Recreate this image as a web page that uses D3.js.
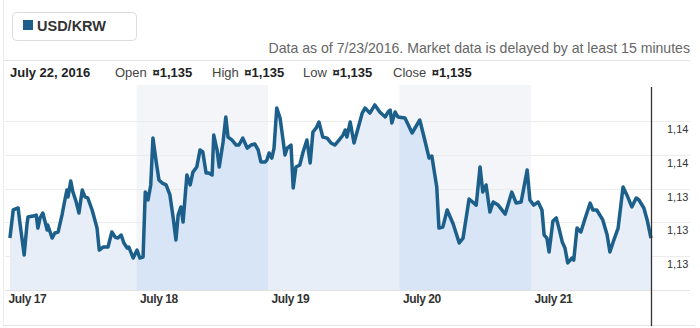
<!DOCTYPE html>
<html><head><meta charset="utf-8">
<script src="https://cdn.jsdelivr.net/npm/d3@7"></script>
<style>
body{margin:0;background:#fff;font-family:Arial,"Liberation Sans",sans-serif;}
svg{display:block}
</style></head>
<body><svg id="c" width="700" height="328"></svg>
<script>
// hours since July 17, 2016 00:00
const hours = [0.9,1.5,2.4,2.7,3.5,4.0,4.2,5.1,5.7,6.0,6.4,6.9,7.7,7.8,8.6,9.1,9.7,10.4,11.0,11.3,11.5,12.0,12.4,13.0,13.5,14.1,14.6,15.1,15.9,16.4,16.8,17.2,17.9,18.8,19.5,20.1,20.6,21.2,21.7,22.3,22.6,23.4,24.1,24.6,25.2,25.6,25.9,26.1,26.6,27.0,27.6,28.1,28.7,29.4,30.1,30.7,31.2,31.6,32.1,32.5,33.2,33.8,34.3,35.0,35.6,36.1,36.7,37.2,37.8,38.1,38.7,39.1,39.8,40.3,40.7,41.4,42.2,42.7,43.4,44.2,44.9,45.6,46.2,46.7,47.5,47.8,48.2,48.7,49.1,49.6,50.2,50.7,51.1,51.5,52.2,52.6,53.1,53.8,54.4,55.1,55.7,56.2,56.8,57.3,58.0,58.8,59.5,60.2,61.0,61.7,62.1,62.4,63.0,63.7,64.2,65.2,65.7,66.6,67.5,68.4,69.4,69.9,70.3,70.6,71.2,71.7,73.0,74.3,75.7,76.7,77.4,77.9,78.8,79.2,79.9,80.7,81.8,82.9,83.6,84.7,86.0,86.7,87.2,87.8,88.5,89.1,90.0,91.3,92.5,93.3,94.2,95.3,95.8,96.5,97.3,98.0,98.4,98.9,99.3,100.0,100.6,101.1,101.7,102.2,102.7,103.5,103.8,104.4,105.1,105.9,106.8,107.3,108.0,109.1,109.9,110.4,111.0,111.9,112.8,113.5,114.4,115.2,115.7,116.6,117.2,117.9];
const rates = [1135.07,1136.73,1136.85,1136.02,1134.07,1135.84,1136.31,1136.37,1136.43,1135.66,1136.26,1136.55,1135.55,1135.84,1135.07,1135.37,1135.43,1136.43,1137.44,1137.91,1137.50,1138.44,1137.79,1137.20,1136.55,1137.91,1137.50,1137.44,1136.73,1136.14,1135.66,1134.36,1134.54,1134.54,1135.43,1135.13,1135.07,1135.25,1134.78,1134.48,1134.54,1133.89,1134.36,1133.89,1133.95,1137.79,1137.62,1137.32,1138.21,1140.98,1139.57,1138.50,1138.32,1138.21,1137.62,1136.26,1134.96,1136.43,1136.91,1136.02,1138.80,1138.21,1138.97,1139.27,1140.28,1140.16,1138.92,1138.92,1138.80,1141.16,1140.28,1139.27,1140.75,1142.23,1141.04,1140.87,1140.57,1140.57,1140.98,1140.39,1140.57,1140.63,1140.28,1139.57,1139.57,1139.68,1140.10,1139.80,1140.39,1142.76,1142.17,1140.98,1139.98,1140.39,1140.57,1138.03,1139.27,1139.39,1140.16,1140.87,1139.51,1141.34,1141.58,1141.93,1141.04,1140.98,1140.69,1140.57,1140.87,1141.16,1141.46,1141.04,1141.93,1140.69,1141.28,1142.46,1142.76,1142.46,1142.94,1142.52,1142.23,1142.52,1142.64,1141.87,1142.52,1142.23,1142.17,1141.28,1142.05,1140.75,1139.80,1139.92,1138.09,1135.66,1135.72,1136.73,1135.90,1134.78,1135.07,1137.38,1137.02,1139.27,1137.79,1138.21,1136.61,1137.20,1137.02,1136.49,1137.79,1137.14,1137.20,1139.09,1137.32,1137.02,1137.20,1136.73,1135.25,1135.07,1134.25,1136.08,1136.26,1135.66,1134.84,1134.48,1133.60,1133.89,1133.77,1135.66,1135.43,1136.26,1137.14,1136.73,1136.73,1136.14,1135.25,1134.25,1134.84,1135.66,1138.09,1137.62,1136.91,1137.44,1137.32,1136.85,1136.14,1135.07];
const dayLabels = ["July 17","July 18","July 19","July 20","July 21"];
const yTickValues = [1142,1140,1138,1136,1134];
const yTickLabels = ["1,14","1,14","1,13","1,13","1,13"];
const shadedDays = [1,3]; // July 18, July 20
const seriesName = "USD/KRW";
const headerDate = "July 22, 2016";
const ohlcLabels = ["Open","High","Low","Close"];
const ohlcValues = ["¤1,135","¤1,135","¤1,135","¤1,135"];
const noteText = "Data as of 7/23/2016. Market data is delayed by at least 15 minutes";

const svg = d3.select("#c");
const t0 = new Date(2016,6,17);
const dayDate = i => d3.timeDay.offset(t0, i);
const data = hours.map((h,i)=>({t:new Date(t0.getTime()+h*3600000), v:rates[i]}));

const x = d3.scaleTime().domain([t0, dayDate(5)]).range([5, 662.5]);
const y = d3.scaleLinear().domain([1132,1144]).range([290, 87]);
const plotTop = 85, plotBottom = 290;
const lineColor = "#1b5f8a";

// outer frame
svg.append("line").attr("x1",3.5).attr("x2",3.5).attr("y1",0).attr("y2",325).attr("stroke","#ececec");
svg.append("line").attr("x1",3).attr("x2",695).attr("y1",325.5).attr("y2",325.5).attr("stroke","#e6e6e6");

// legend box
svg.append("rect").attr("x",12.5).attr("y",12.5).attr("width",124).attr("height",28).attr("rx",4)
  .attr("fill","#fff").attr("stroke","#dcdcdc");
svg.append("rect").attr("x",23).attr("y",20).attr("width",10).attr("height",10).attr("fill",lineColor);
svg.append("text").attr("x",37).attr("y",31).attr("font-size",14.5).attr("font-weight","bold").attr("fill","#333").text(seriesName);

// note
svg.append("text").attr("x",690).attr("y",53).attr("text-anchor","end").attr("font-size",14.1).attr("fill","#666").text(noteText);
svg.append("line").attr("x1",3).attr("x2",690).attr("y1",60.5).attr("y2",60.5).attr("stroke","#e4e4e4");

// header row
svg.append("text").attr("x",10).attr("y",77).attr("font-size",13).attr("font-weight","bold").attr("fill","#222").text(headerDate);
const ohlcX = [115,212,303,393];
ohlcLabels.forEach((l,i)=>{
  const tx = svg.append("text").attr("x",ohlcX[i]).attr("y",77).attr("font-size",13).attr("fill","#444");
  tx.append("tspan").text(l+" ");
  tx.append("tspan").attr("font-weight","bold").attr("fill","#222").attr("dx",2).text(ohlcValues[i]);
});

// shaded day bands (background)
shadedDays.forEach(d=>{
  svg.append("rect").attr("x",x(dayDate(d))).attr("y",plotTop).attr("width",x(dayDate(d+1))-x(dayDate(d))).attr("height",plotBottom-plotTop).attr("fill","#f3f5f9");
});

// gridlines + y labels
const yAxis = d3.axisRight(y).tickValues(yTickValues).tickSize(0).tickFormat((d,i)=>yTickLabels[i]);
const gy = svg.append("g").attr("transform","translate(667,0)").call(yAxis);
gy.select(".domain").remove();
gy.selectAll("text").attr("x",0).attr("dy","1.05em").attr("font-size",11).attr("font-family","Arial, Liberation Sans, sans-serif").attr("fill","#333");
svg.append("g").selectAll("line").data(yTickValues.concat([1132])).join("line")
  .attr("x1",5).attr("x2",690).attr("y1",d=>Math.round(y(d))+0.5).attr("y2",d=>Math.round(y(d))+0.5)
  .attr("stroke",d=>d===1132?"#e2e2e2":"#ececec");

// area
const area = d3.area().x(d=>x(d.t)).y0(plotBottom).y1(d=>y(d.v));
svg.append("path").datum(data).attr("d",area).attr("fill","#e8eef7");
const defs = svg.append("defs");
const cp = defs.append("clipPath").attr("id","shade");
shadedDays.forEach(d=>{
  cp.append("rect").attr("x",x(dayDate(d))).attr("y",plotTop).attr("width",x(dayDate(d+1))-x(dayDate(d))).attr("height",plotBottom-plotTop);
});
svg.append("path").datum(data).attr("d",area).attr("fill","#d7e5f6").attr("clip-path","url(#shade)");

// line
svg.append("path").datum(data).attr("d",d3.line().x(d=>x(d.t)).y(d=>y(d.v)))
  .attr("fill","none").attr("stroke",lineColor).attr("stroke-width",3.5).attr("stroke-linejoin","round");

// x axis
const xAxis = d3.axisBottom(x).tickValues(dayLabels.map((d,i)=>dayDate(i))).tickSize(0).tickFormat((d,i)=>dayLabels[i]);
const gx = svg.append("g").attr("transform",`translate(0,${plotBottom})`).call(xAxis);
gx.select(".domain").remove();
gx.selectAll("text").attr("text-anchor","start").attr("x",3).attr("y",13).attr("dy","0")
  .attr("font-size",12).attr("font-weight","bold").attr("font-family","Arial, Liberation Sans, sans-serif").attr("fill","#333").attr("letter-spacing","-0.4");

// crosshair
const last = data[data.length-1];
svg.append("line").attr("x1",x(last.t)+0.5).attr("x2",x(last.t)+0.5).attr("y1",87).attr("y2",326).attr("stroke","#333").attr("stroke-width",1.3);
</script></body></html>
